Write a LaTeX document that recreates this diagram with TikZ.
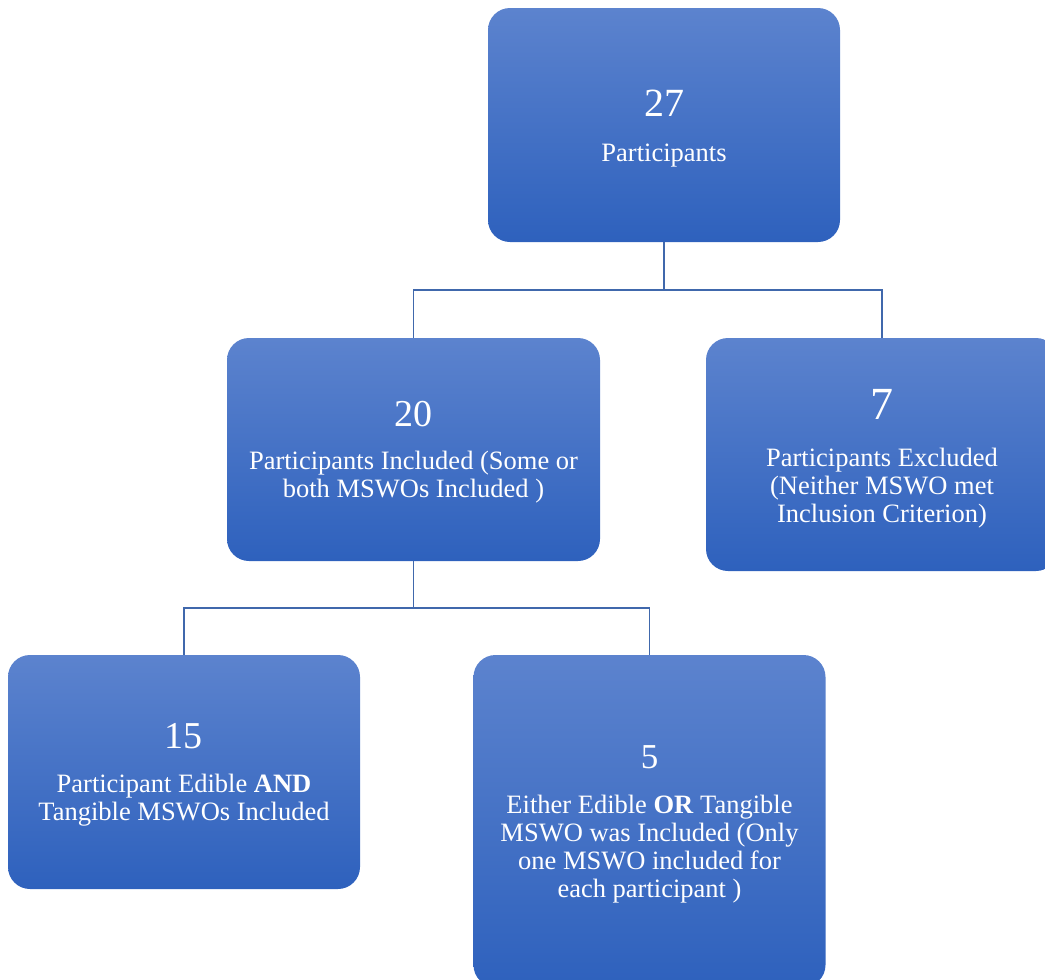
\documentclass[tikz,border=0pt]{standalone}
\usepackage{fontspec}
\setmainfont{Liberation Serif}
\usetikzlibrary{positioning}
\definecolor{BoxTop}{HTML}{5C83CE}
\definecolor{BoxBot}{HTML}{2E61BD}
\definecolor{Wire}{HTML}{4068AC}
\newcommand{\bignum}[2]{{\fontsize{#1}{#1}\selectfont\rule{0pt}{.83em}#2}}

\begin{document}
\begin{tikzpicture}[x=1pt, y=-1pt,
  box/.style={rounded corners=22pt, top color=BoxTop, bottom color=BoxBot,
    text=white, align=center, minimum width=352pt,
    font=\fontsize{26.5}{28}\selectfont},
  wire/.style={Wire, line width=1.3pt}]
  \useasboundingbox (0,0) rectangle (1045,980);

  \node[box, minimum height=234pt] (p27) at (664,125)
    {\bignum{40}{27}\\[17pt] Participants};
  \node[box, minimum height=223pt, minimum width=373pt] (p20) at (413.5,449.5)
    {\bignum{38}{20}\\[15pt] Participants Included (Some or\\ both MSWOs Included )};
  \node[box, minimum height=233pt] (p7) at (882,454.5)
    {\bignum{46}{7}\\[19pt] Participants Excluded\\ (Neither MSWO met\\ Inclusion Criterion)};
  \node[box, minimum height=234pt] (p15) at (184,772)
    {\bignum{38}{15}\\[16pt] Participant Edible \textbf{AND}\\ Tangible MSWOs Included};
  \node[box, minimum height=332pt] (p5) at (649.5,821)
    {\bignum{35}{5}\\[17pt] Either Edible \textbf{OR} Tangible\\ MSWO was Included (Only\\ one MSWO included for\\ each participant )};

  \coordinate (j27) at (664,290);
  \coordinate (j20) at (413.5,608);
  \draw[wire] (p27.south) -- (j27) -| (p20.north);
  \draw[wire] (j27) -| (p7.north);
  \draw[wire] (p20.south) -- (j20) -| (p15.north);
  \draw[wire] (j20) -| (p5.north);
\end{tikzpicture}
\end{document}
